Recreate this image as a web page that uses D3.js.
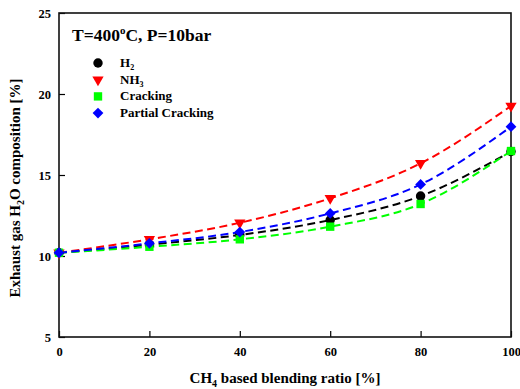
<!DOCTYPE html>
<html>
<head>
<meta charset="utf-8">
<script src="https://cdn.jsdelivr.net/npm/d3@7"></script>
<style>
  body { margin: 0; background: #fff; }
  text { font-family: "Liberation Serif", "Times New Roman", serif; font-weight: bold; }
</style>
</head>
<body>
<div id="chart"></div>
<script>
// blending ratio (x) and H2O composition for each fuel case
var ratios = [0, 20, 40, 60, 80, 100];
var h2 = [10.2, 10.7, 11.3, 12.22, 13.7, 16.45];
var nh3 = [10.2, 11.03, 12.05, 13.56, 15.72, 19.26];
var cracking = [10.2, 10.57, 11.03, 11.81, 13.21, 16.48];
var partial = [10.2, 10.78, 11.48, 12.63, 14.42, 17.98];
var xTicks = [0, 20, 40, 60, 80, 100];
var yTicks = [5, 10, 15, 20, 25];

var series = [
    { name: "H2", values: h2, color: "#000000", symbol: d3.symbolCircle, size: 70, rot: 0 },
    { name: "NH3", values: nh3, color: "#ff0000", symbol: d3.symbolTriangle, size: 55, rot: 180 },
    { name: "Cracking", values: cracking, color: "#00ff00", symbol: d3.symbolSquare, size: 70, rot: 0 },
    { name: "Partial Cracking", values: partial, color: "#0000ff", symbol: d3.symbolSquare, size: 58, rot: 45 }
];

var svgWidth = 520, svgHeight = 389;
var margin = { top: 13, right: 9, bottom: 52, left: 59 };
var width = svgWidth - margin.left - margin.right;
var height = svgHeight - margin.top - margin.bottom;

var svg = d3.select("#chart").append("svg")
    .attr("width", svgWidth)
    .attr("height", svgHeight);

var g = svg.append("g")
    .attr("transform", "translate(" + margin.left + "," + margin.top + ")");

var x = d3.scaleLinear().domain([0, 100]).range([0, width]);
var y = d3.scaleLinear().domain([5, 25]).range([height, 0]);

// axes with inward ticks
var xAxis = g.append("g")
    .attr("transform", "translate(0," + height + ")")
    .call(d3.axisBottom(x).tickValues(xTicks).tickSize(-6).tickPadding(10).tickSizeOuter(0));
var yAxis = g.append("g")
    .call(d3.axisLeft(y).tickValues(yTicks).tickSize(-6).tickPadding(8).tickSizeOuter(0));

[xAxis, yAxis].forEach(function(a) {
    a.select(".domain").remove();
    a.selectAll("line").attr("stroke", "#000").attr("stroke-width", 1.2);
    a.selectAll("text")
        .style("font-size", "12.5px")
        .style("font-weight", "bold")
        .attr("fill", "#000");
});

// frame
g.append("rect")
    .attr("width", width)
    .attr("height", height)
    .attr("fill", "none")
    .attr("stroke", "#111")
    .attr("stroke-width", 1.6);

// dashed curves
var line = d3.line()
    .x(function(d, i) { return x(ratios[i]); })
    .y(function(d) { return y(d); })
    .curve(d3.curveMonotoneX);

series.forEach(function(s) {
    g.append("path")
        .datum(s.values)
        .attr("fill", "none")
        .attr("stroke", s.color)
        .attr("stroke-width", 2)
        .attr("stroke-dasharray", "8,4.5")
        .attr("d", line);
});

series.forEach(function(s, k) {
    g.selectAll(".pt" + k)
        .data(s.values)
        .enter().append("path")
        .attr("class", "pt" + k)
        .attr("d", d3.symbol().type(s.symbol).size(s.size))
        .attr("transform", function(d, i) {
            return "translate(" + x(ratios[i]) + "," + y(d) + ") rotate(" + s.rot + ")";
        })
        .attr("fill", s.color);
});

// title inside plot
var title = g.append("text")
    .attr("x", 13)
    .attr("y", 28)
    .style("font-size", "17.5px")
    .attr("fill", "#000");
title.append("tspan").text("T=400");
title.append("tspan").attr("dy", -7).style("font-size", "11px").text("o");
title.append("tspan").attr("dy", 7).text("C, P=10bar");

// legend
var legend = g.append("g").attr("transform", "translate(39,50)");
var labels = [["H", "2"], ["NH", "3"], ["Cracking", ""], ["Partial Cracking", ""]];
series.forEach(function(s, i) {
    var row = legend.append("g").attr("transform", "translate(0," + (i * 16.7) + ")");
    row.append("path")
        .attr("d", d3.symbol().type(s.symbol).size(s.size))
        .attr("transform", "rotate(" + s.rot + ")")
        .attr("fill", s.color);
    var t = row.append("text")
        .attr("x", 22)
        .attr("y", 4)
        .style("font-size", "13px")
        .attr("fill", "#000");
    t.append("tspan").text(labels[i][0]);
    if (labels[i][1]) {
        t.append("tspan").attr("dy", 3).style("font-size", "8px").text(labels[i][1]);
    }
});

// x-axis label
var xl = svg.append("text")
    .attr("x", margin.left + width / 2)
    .attr("y", 383)
    .attr("text-anchor", "middle")
    .style("font-size", "15px")
    .attr("fill", "#000");
xl.append("tspan").text("CH");
xl.append("tspan").attr("dy", 4).style("font-size", "10px").text("4");
xl.append("tspan").attr("dy", -4).text(" based blending ratio [%]");

// y-axis label
var yl = svg.append("text")
    .attr("transform", "translate(20,188) rotate(-90)")
    .attr("text-anchor", "middle")
    .style("font-size", "15px")
    .attr("fill", "#000");
yl.append("tspan").text("Exhaust gas H");
yl.append("tspan").attr("dy", 4).style("font-size", "10px").text("2");
yl.append("tspan").attr("dy", -4).text("O composition [%]");
</script>
</body>
</html>
